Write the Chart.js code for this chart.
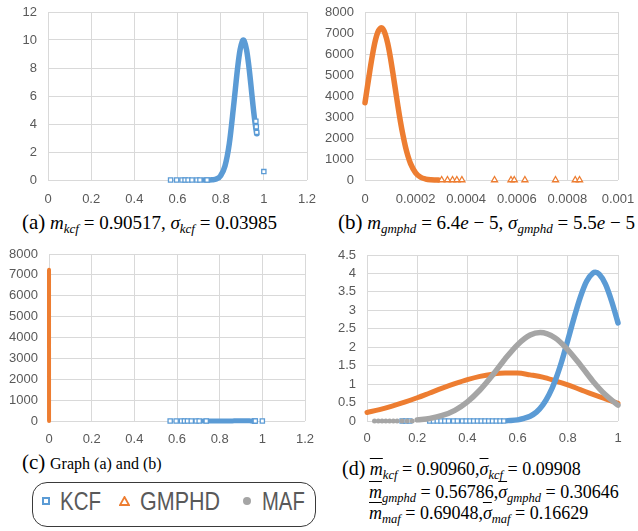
<!DOCTYPE html>
<html><head><meta charset="utf-8">
<script src="https://cdn.jsdelivr.net/npm/chart.js@4/dist/chart.umd.min.js"></script>
<style>
body{margin:0;width:638px;height:531px;background:#fff;position:relative;overflow:hidden;}
canvas{position:absolute;}
.cap{position:absolute;font-family:"Liberation Serif",serif;font-size:19px;line-height:22px;color:#000;white-space:nowrap;}
.cap i{font-style:italic;}
.cap .lb{font-size:21px;}
.cap sub{font-size:13px;font-style:italic;vertical-align:-4px;line-height:0;}
.cap.d{font-size:18px;}
.cap.d .lb{font-size:20px;}
.cap.d sub{font-size:12.5px;}
.ov{text-decoration:overline;text-decoration-thickness:1px;}
#leg{position:absolute;left:32px;top:482px;width:284px;height:45px;border:1.5px solid #3a3a3a;border-radius:15px;box-sizing:border-box;}
.lt{position:absolute;font-family:"Liberation Sans",sans-serif;font-size:25px;line-height:30px;color:#595959;transform-origin:0 50%;white-space:nowrap;}
.mk{position:absolute;box-sizing:border-box;}
</style></head>
<body>
<canvas id="ca" width="320" height="210" style="left:0;top:0"></canvas>
<canvas id="cb" width="318" height="210" style="left:320px;top:0"></canvas>
<canvas id="cc" width="320" height="210" style="left:0;top:240px"></canvas>
<canvas id="cd" width="318" height="210" style="left:320px;top:240px"></canvas>

<div class="cap" style="left:22px;top:211px"><span class="lb">(a)</span> <i>m</i><sub>kcf</sub> = 0.90517, <i>σ</i><sub>kcf</sub> = 0.03985</div>
<div class="cap" style="left:338px;top:211px"><span class="lb">(b)</span> <i>m</i><sub>gmphd</sub> = 6.4<i>e</i> − 5, <i>σ</i><sub>gmphd</sub> = 5.5<i>e</i> − 5</div>
<div class="cap" style="left:22px;top:451px"><span class="lb">(c)</span> <span style="font-size:16px">Graph (a) and (b)</span></div>
<div class="cap d" style="left:342px;top:457px"><span class="lb">(d)</span> <span class="ov"><i>m</i></span><sub>kcf</sub> = 0.90960,<span class="ov"><i>σ</i></span><sub>kcf</sub> = 0.09908</div>
<div class="cap d" style="left:369px;top:481px"><span class="ov"><i>m</i></span><sub>gmphd</sub> = 0.56786,<span class="ov"><i>σ</i></span><sub>gmphd</sub> = 0.30646</div>
<div class="cap d" style="left:369px;top:502px"><span class="ov"><i>m</i></span><sub>maf</sub> = 0.69048,<span class="ov"><i>σ</i></span><sub>maf</sub> = 0.16629</div>

<div id="leg">
  <div class="mk" style="left:9px;top:14px;width:8px;height:8px;border:2px solid #5B9BD5;background:#fff"></div>
  <div class="lt" style="left:27px;top:3px;transform:scaleX(0.82)">KCF</div>
  <svg class="mk" style="left:86px;top:13px" width="11" height="10"><polygon points="5.5,1 10,9 1,9" fill="#fff" stroke="#ED7D31" stroke-width="1.8"/></svg>
  <div class="lt" style="left:107px;top:3px;transform:scaleX(0.86)">GMPHD</div>
  <div class="mk" style="left:210px;top:14px;width:8px;height:8px;border-radius:50%;background:#A5A5A5"></div>
  <div class="lt" style="left:229px;top:3px;transform:scaleX(0.81)">MAF</div>
</div>

<script>
// ---------- tick labels ----------
const xTicksA = ['0','0.2','0.4','0.6','0.8','1','1.2'];
const yTicksA = ['0','2','4','6','8','10','12'];
const xTicksB = ['0','0.0002','0.0004','0.0006','0.0008','0.001'];
const yTicksB = ['0','1000','2000','3000','4000','5000','6000','7000','8000'];
const xTicksC = ['0','0.2','0.4','0.6','0.8','1','1.2'];
const yTicksC = ['0','1000','2000','3000','4000','5000','6000','7000','8000'];
const xTicksD = ['0','0.2','0.4','0.6','0.8','1'];
const yTicksD = ['0','0.5','1','1.5','2','2.5','3','3.5','4','4.5'];

// ---------- (a) KCF ----------
const kcfCurveX = [0.72,0.74,0.76,0.78,0.80,0.82,0.84,0.86,0.88,0.89,0.90,0.905,0.91,0.92,0.93,0.94,0.95,0.96,0.965,0.967];
const kcfCurveY = [0.0,0.0,0.02,0.07,0.31,1.0,2.6,5.3,8.2,9.3,9.9,10.0,9.9,9.3,8.2,6.8,5.3,4.0,3.5,3.3];
const kcfPtsX = [0.568,0.596,0.621,0.635,0.649,0.667,0.69,0.704,0.737,0.963,0.965,0.967,1.0];
const kcfPtsY = [0,0,0,0,0,0,0,0,0,4.2,3.8,3.4,0.6];

// ---------- (b) GMPHD ----------
const gmCurveX = [0,0.00001,0.00002,0.00003,0.00004,0.00005,0.000064,0.00007,0.00008,0.00009,0.0001,0.00011,0.00012,0.00013,0.00014,0.00015,0.00016,0.00017,0.00018,0.0002,0.00022,0.00024,0.00026,0.00028,0.00029];
const gmCurveY = [3680,4480,5270,5990,6600,7020,7250,7210,6950,6490,5860,5110,4320,3530,2790,2140,1580,1130,780,340,130,45,12,3,0];
const gmPtsX = [0.000303,0.000326,0.000346,0.000363,0.000383,0.000512,0.000577,0.00059,0.000632,0.000753,0.000831,0.000848];
const gmPtsY = [0,0,0,0,0,0,0,0,0,0,0,0];

// ---------- (d) normalised ----------
const dKcfX = [0.56,0.6,0.625,0.65,0.675,0.7,0.725,0.75,0.775,0.8,0.825,0.85,0.875,0.9,0.91,0.925,0.95,0.975,1.0];
const dKcfY = [0.01,0.03,0.07,0.13,0.24,0.43,0.71,1.10,1.60,2.19,2.80,3.36,3.79,4.01,4.03,3.98,3.71,3.24,2.66];
const dKcfPtsX = [0.14,0.155,0.17,0.25,0.265,0.28,0.295,0.31,0.325,0.345,0.36,0.38,0.395,0.41,0.425,0.44,0.455,0.47,0.485,0.5,0.515,0.53,0.545];
const dGmX = [0,0.05,0.1,0.15,0.2,0.25,0.3,0.35,0.4,0.45,0.5,0.55,0.6,0.65,0.7,0.75,0.8,0.85,0.9,0.95,1.0];
const dGmY = [0.23,0.31,0.405,0.51,0.63,0.76,0.89,1.01,1.12,1.21,1.27,1.30,1.30,1.25,1.19,1.09,0.98,0.85,0.72,0.60,0.48];
const dMafX = [0.2,0.25,0.3,0.35,0.4,0.45,0.5,0.55,0.6,0.65,0.69,0.75,0.8,0.85,0.9,0.95,1.0];
const dMafY = [0.03,0.07,0.15,0.29,0.52,0.84,1.24,1.68,2.07,2.33,2.40,2.25,1.93,1.52,1.08,0.71,0.43];
const dMafPtsX = [0.03,0.045,0.06,0.075,0.09,0.105,0.12,0.14,0.16,0.18];

// ---------- helpers ----------
const BLUE='#5B9BD5', ORANGE='#ED7D31', GRAY='#A5A5A5';
const zip = (xs, ys) => xs.map((x,i)=>({x, y: ys[i]}));
const zeros = xs => xs.map(x=>({x, y:0}));
const tickFont = {family:'"Liberation Sans", Arial, sans-serif', size:13};

function curve(xs, ys, color, w){
  return {data: zip(xs,ys), showLine:true, borderColor:color, backgroundColor:color, borderWidth:w,
    pointRadius:0, cubicInterpolationMode:'monotone', clip:false, borderCapStyle:'round', borderJoinStyle:'round'};
}
function pts(data, color, style){
  const o = {data, showLine:false, clip:false, pointStyle:style, borderColor:color};
  if(style==='rect'){ o.pointRadius=3; o.backgroundColor='#fff'; o.pointBorderWidth=1.3; }
  else if(style==='triangle'){ o.pointRadius=3.5; o.backgroundColor='#fff'; o.pointBorderWidth=1.3; }
  else { o.pointRadius=2.5; o.backgroundColor=color; o.pointBorderWidth=0; }
  return o;
}
function axis(labels, isX, fixed, pad){
  const vals = labels.map(parseFloat);
  return {
    type:'linear', min: vals[0], max: vals[vals.length-1],
    afterBuildTicks: s => { s.ticks = vals.map(v=>({value:v})); },
    ticks:{callback:(v,i)=>labels[i], color:'#595959', font:tickFont, padding: pad, maxRotation:0, autoSkip:false},
    grid:{color:'#D9D9D9', lineWidth:1, drawTicks:false},
    border:{display:false},
    afterFit: s => { if(isX){ s.height=fixed; } else { s.width=fixed; } s.paddingLeft=0; s.paddingRight=0; s.paddingTop=0; s.paddingBottom=0; }
  };
}
function make(id, datasets, xl, yl, yW, xH, xPad, pad){
  new Chart(document.getElementById(id), {
    type:'scatter',
    data:{datasets},
    options:{
      responsive:false, animation:false, events:[],
      layout:{padding:pad},
      plugins:{legend:{display:false}, tooltip:{enabled:false}},
      scales:{x: axis(xl,true,xH,xPad), y: axis(yl,false,yW,11)}
    }
  });
}

make('ca', [
  pts(zip(kcfPtsX,kcfPtsY), BLUE, 'rect'),
  curve(kcfCurveX, kcfCurveY, BLUE, 5.5)
], xTicksA, yTicksA, 48, 30, 12, {left:0,right:13,top:12,bottom:0});

make('cb', [
  pts(zip(gmPtsX,gmPtsY), ORANGE, 'triangle'),
  curve(gmCurveX, gmCurveY, ORANGE, 5.5)
], xTicksB, yTicksB, 45, 30, 12, {left:0,right:20,top:12,bottom:0});

make('cc', [
  curve(gmCurveX, gmCurveY, ORANGE, 4),
  pts(zip(kcfPtsX,kcfPtsY), BLUE, 'rect'),
  curve(kcfCurveX, kcfCurveY, BLUE, 5)
], xTicksC, yTicksC, 49, 29, 11, {left:0,right:15,top:14,bottom:0});

make('cd', [
  pts(zeros(dMafPtsX), GRAY, 'circle'),
  curve(dMafX, dMafY, GRAY, 5.5),
  pts(zeros(dKcfPtsX), BLUE, 'rect'),
  curve(dKcfX, dKcfY, BLUE, 5.5),
  curve(dGmX, dGmY, ORANGE, 5)
], xTicksD, yTicksD, 47, 29, 10, {left:0,right:20,top:15,bottom:0});
</script>
</body></html>
